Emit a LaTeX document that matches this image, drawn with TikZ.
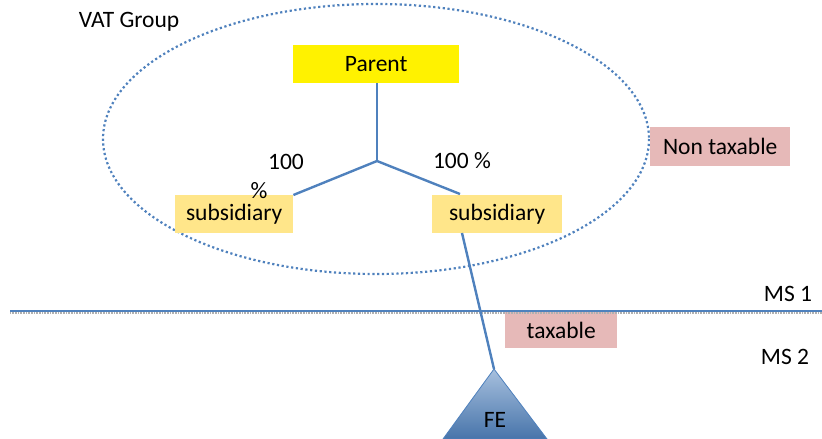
\documentclass[tikz,border=0pt]{standalone}
\usepackage{fontspec}
\setmainfont{Carlito}
\begin{document}
\begin{tikzpicture}[x=1pt,y=-1pt,
  lbl/.style={font=\fontsize{23.5}{27}\selectfont, inner sep=0pt},
  box/.style={lbl, minimum height=38pt, anchor=north west},
  conn/.style={draw=linkblue, line width=2.4pt}
]
\definecolor{linkblue}{HTML}{4F81BD}
\definecolor{subyel}{HTML}{FFE68A}
\definecolor{pinkbox}{HTML}{E6B9B8}
\definecolor{shadowgrey}{HTML}{B0B0B0}
\useasboundingbox (0,0) rectangle (822,439);
% VAT group ellipse
\draw[linkblue, line width=2.2pt, dash pattern=on 2.2pt off 2.6pt] (376,139) ellipse [x radius=273, y radius=135];
\node[lbl] (vat) at (129,22) {VAT Group};
% boxes
\node[box, fill=yellow, minimum width=166pt] (parent) at (293,45) {Parent};
\node[box, fill=subyel, minimum width=118pt] (lsub) at (175,195) {subsidiary};
\node[box, fill=subyel, minimum width=130pt] (rsub) at (432,195) {subsidiary};
\node[box, fill=pinkbox, minimum width=140pt, minimum height=39pt] (nontax) at (650,127) {Non taxable};
\node[box, fill=pinkbox, minimum width=112pt, minimum height=36pt] (tax) at (505,312) {taxable};
% percentages
\node[lbl] (p1) at (286,162) {100};
\node[lbl] (p2) at (259,191) {\%};
\node[lbl] (p3) at (462,161) {100 \%};
% junction
\coordinate (j) at (377,161);
\coordinate (rend) at (460,194);
\draw[conn] (parent.south -| j) -- (j);
\draw[conn] (j) -- (lsub.north east);
\draw[conn] (j) -- (rend);
% MS line
\coordinate (ml) at (10,311);
\coordinate (mr) at (822,311);
\draw[shadowgrey, line width=2pt, dash pattern=on 0.8pt off 0.8pt] ([yshift=-2.2pt]ml) -- ([yshift=-2.2pt]mr);
\draw[linkblue, line width=2.2pt] (ml) -- (mr);
\node[lbl] (ms1) at (788,294) {MS 1};
\node[lbl] (ms2) at (785,357) {MS 2};
% FE triangle
\coordinate (apex) at (494,369);
\coordinate (bl) at (443,439);
\coordinate (br) at (547,439);
\shade[top color=linkblue!50, bottom color=linkblue!90!black] (apex) -- (br) -- (bl) -- cycle;
\draw[linkblue, line width=0.8pt] (apex) -- (br) -- (bl) -- cycle;
\node[lbl] (fe) at (495,420) {FE};
\coordinate (rbot) at (462,233);
\draw[conn] (rbot) -- (apex);
\end{tikzpicture}
\end{document}
